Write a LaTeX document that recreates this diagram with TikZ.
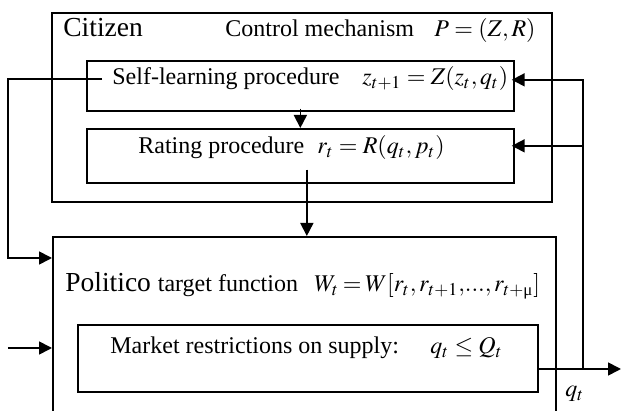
\documentclass[tikz,border=0pt]{standalone}
\usepackage{mathptmx}
\usepackage{fontspec}
\setmainfont{Liberation Serif}
\usetikzlibrary{arrows.meta}
\begin{document}
\begin{tikzpicture}[x=0.5pt,y=-0.5pt,
  bigbox/.style={draw,line width=1pt,anchor=north west,inner sep=0pt},
  smallbox/.style={draw,line width=0.85pt,anchor=north west,inner sep=0pt},
  txt/.style={anchor=base west,inner sep=0pt,font=\fontsize{12}{14}\selectfont},
  bigtxt/.style={anchor=base west,inner sep=0pt,font=\fontsize{13.75}{16}\selectfont},
  arr/.style={line width=0.85pt,-{Triangle[length=6.5pt,width=6.5pt]}},
  plain/.style={line width=0.85pt}]
\useasboundingbox (0,0) rectangle (623,411);
\clip (0,0) rectangle (623,411);
% boxes
\node[bigbox,minimum width=250pt,minimum height=94.5pt] (cit) at (51,12) {};
\node[smallbox,minimum width=213.5pt,minimum height=25pt] (sl) at (86,60) {};
\node[smallbox,minimum width=213.5pt,minimum height=27pt] (rat) at (86,128) {};
\node[bigbox,minimum width=251.5pt,minimum height=97pt] (pol) at (52,236) {};
\node[smallbox,minimum width=230pt,minimum height=33.5pt] (mkt) at (77,324) {};
% texts
\node[bigtxt] (citt) at (63,37) {Citizen};
\node[txt] (cmt) at (225,37) {Control mechanism};
\node[txt] (cmf) at (434,37) {$P=(Z,R)$};
\node[txt] (slt) at (112,85) {Self-learning procedure};
\node[txt] (slf) at (362,85) {$z_{t+1}=Z(z_t,q_t)$};
\node[txt] (rt) at (138,154) {Rating procedure};
\node[txt] (rf) at (317,154) {$r_t=R(q_t,p_t)$};
\node[bigtxt] (pt) at (65,292) {Politico \fontsize{12}{14}\selectfont target function};
\node[txt] (pf) at (314,292) {\thickmuskip=3mu$W_t=W[r_t,r_{t+1},\!...,r_{t+\hbox{\fontsize{8.4}{9}\selectfont μ}}]$};
\node[txt] (mt) at (110,354) {Market restrictions on supply:};
\node[txt] (mf) at (430,354) {$q_t\le Q_t$};
\node[txt] (qt) at (565,397) {$q_t$};
% connectors
\draw[arr] ([yshift=1.5pt]sl.south) -- (rat.north);
\coordinate (ra) at ([xshift=3.25pt]rat.south);
\draw[arr] ([yshift=7pt]ra) -- (ra |- pol.north);
\coordinate (lf) at (8,0);
\coordinate (lstart) at ([xshift=-5pt]slt.west);
\draw[arr] (lstart) -- (lstart -| lf) |- ([yshift=-11pt]pol.north west);
\coordinate (inp) at (8,348);
\draw[arr] (inp) -- (inp -| pol.west);
\coordinate (out) at (621,369);
\draw[arr] (mkt.east |- out) -- (out);
\coordinate (fb) at (583,369);
\draw[arr] (fb) |- ([yshift=3pt,xshift=-1.5pt]sl.east);
\coordinate (rin) at ([yshift=5pt,xshift=-1.5pt]rat.east);
\draw[arr] (fb |- rin) -- (rin);
\end{tikzpicture}
\end{document}
